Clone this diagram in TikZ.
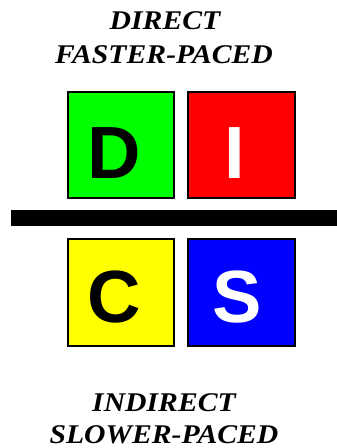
\documentclass[tikz,border=0pt]{standalone}
\usepackage{fontspec}
\usepackage{tikz}
\usetikzlibrary{positioning,calc}
\newfontface\headfont{Liberation Serif Bold Italic}[FakeStretch=1.1]
\newfontfamily\letterfont{Liberation Sans}
\definecolor{DGreen}{RGB}{0,255,0}
\definecolor{IRed}{RGB}{255,0,0}
\definecolor{CYellow}{RGB}{255,255,0}
\definecolor{SBlue}{RGB}{0,0,255}
\tikzset{
	cell/.style={rectangle,draw=black,line width=2.4pt,minimum size=106.5pt,inner sep=0pt},
	letter/.style={font=\letterfont\bfseries\fontsize{74}{74}\selectfont,inner sep=0pt,anchor=base},
	head/.style={font=\headfont\fontsize{27}{30}\selectfont,inner sep=0pt,anchor=base},
	divider/.style={draw=black,line width=16pt},
}
\begin{document}
\begin{tikzpicture}[x=1pt,y=-1pt]
			\useasboundingbox (0,0) rectangle (337,448);
			% top heading
			\node[head] (t1) at (165,29) {DIRECT};
			\node[head] (t2) at (164,63) {FASTER-PACED};
			% the four boxes
			\node[cell,fill=DGreen] (D) at (121,145) {};
			\node[cell,fill=IRed] (I) at (241.5,145) {};
			\node[cell,fill=CYellow] (C) at (121,292.5) {};
			\node[cell,fill=SBlue] (S) at (241.5,292.5) {};
			\node[letter,text=black] (Dl) at (114.5,178) {D};
			\node[letter,text=white] (Il) at (234.5,178) {I};
			\node[letter,text=black] (Cl) at (114,322.5) {C};
			\node[letter,text=white] (Sl) at (237.5,322.5) {S};
			% divider bar
			\coordinate (barL) at (10.5,218);
			\coordinate (barR) at (337,218);
			\draw[divider] (barL)--(barR);
			% bottom heading
			\node[head] (b1) at (164,411.5) {INDIRECT};
			\node[head] (b2) at (164,443.5) {SLOWER-PACED};
		\end{tikzpicture}
\end{document}
